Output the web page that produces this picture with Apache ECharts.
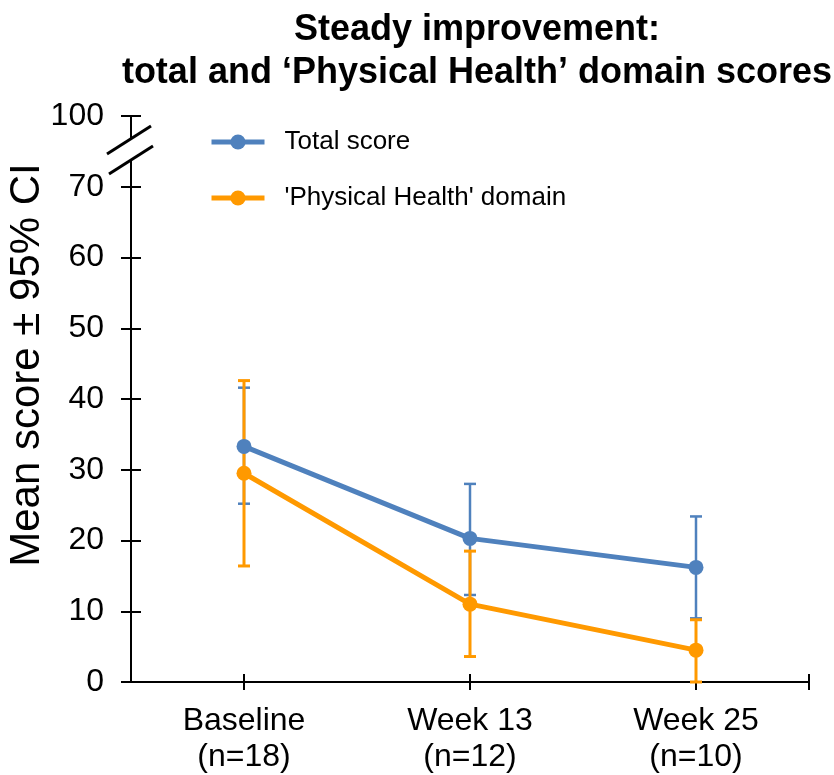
<!DOCTYPE html>
<html>
<head>
<meta charset="utf-8">
<script src="https://cdn.jsdelivr.net/npm/echarts@6/dist/echarts.min.js"></script>
<style>
  html, body { margin: 0; padding: 0; background: #fff; }
  #chart { width: 834px; height: 775px; }
</style>
</head>
<body>
<div id="chart"></div>
<script>
// data
const categories = ['Baseline\n(n=18)', 'Week 13\n(n=12)', 'Week 25\n(n=10)'];
const totalMean = [33.3, 20.3, 16.2];
const totalLow = [25.2, 12.3, 9.0];
const totalHigh = [41.6, 28.0, 23.4];
const physMean = [29.5, 11.0, 4.5];
const physLow = [16.4, 3.6, 0];
const physHigh = [42.6, 18.5, 8.8];
// the top tick (80 on the scale) stands for 100 after the axis break
const yTickLabels = { 0: '0', 10: '10', 20: '20', 30: '30', 40: '40', 50: '50', 60: '60', 70: '70', 80: '100' };

const BLUE = '#4F81BD';
const ORANGE = '#FF9900';
const FONT = '"Liberation Sans", Arial, sans-serif';

const chart = echarts.init(document.getElementById('chart'));

function errorBars(low, high, color, width) {
  return {
    type: 'custom',
    xAxisIndex: 0,
    yAxisIndex: 0,
    silent: true,
    z: 2,
    data: low.map((v, i) => [i + 1, v, high[i]]),
    renderItem: function (params, api) {
      const x = api.value(0);
      const lo = api.coord([x, api.value(1)]);
      const hi = api.coord([x, api.value(2)]);
      const cap = 6;
      const style = { stroke: color, lineWidth: width };
      return {
        type: 'group',
        children: [
          { type: 'line', shape: { x1: lo[0], y1: lo[1], x2: hi[0], y2: hi[1] }, style },
          { type: 'line', shape: { x1: lo[0] - cap, y1: lo[1], x2: lo[0] + cap, y2: lo[1] }, style },
          { type: 'line', shape: { x1: hi[0] - cap, y1: hi[1], x2: hi[0] + cap, y2: hi[1] }, style }
        ]
      };
    }
  };
}

function lineSeries(name, values, color) {
  return {
    name,
    type: 'line',
    xAxisIndex: 0,
    yAxisIndex: 0,
    z: 3,
    data: values.map((v, i) => [i + 1, v]),
    symbol: 'circle',
    symbolSize: 15,
    lineStyle: { color, width: 5 },
    itemStyle: { color },
    emphasis: { disabled: true }
  };
}

const axisLineStyle = { color: '#000', width: 2 };

const option = {
  animation: false,
  backgroundColor: '#fff',
  title: {
    text: 'Steady improvement:\ntotal and \u2018Physical Health\u2019 domain scores',
    left: 472,
    top: 4,
    textAlign: 'center',
    textStyle: { fontFamily: FONT, fontSize: 36, fontWeight: 'bold', color: '#000', lineHeight: 43 }
  },
  legend: {
    orient: 'vertical',
    left: 204,
    top: 124,
    itemWidth: 53,
    itemHeight: 19,
    itemGap: 30,
    lineStyle: { width: 5 },
    data: ['Total score', '\'Physical Health\' domain'],
    textStyle: { fontFamily: FONT, fontSize: 26, color: '#000', padding: [0, 0, 0, 15] }
  },
  grid: { left: 131, right: 25, top: 116, bottom: 93 },
  xAxis: [
    {
      type: 'value',
      min: 0.5,
      max: 3.5,
      position: 'bottom',
      splitLine: { show: false },
      axisLine: { onZero: false, lineStyle: axisLineStyle },
      axisTick: { customValues: [1, 2, 3, 3.5], length: 8, lineStyle: axisLineStyle },
      axisLabel: {
        customValues: [1, 2, 3],
        formatter: v => categories[Math.round(v) - 1],
        margin: 21,
        fontFamily: FONT,
        fontSize: 32,
        lineHeight: 36,
        color: '#000'
      }
    },
    {
      // inner half of the crossing ticks
      type: 'value',
      min: 0.5,
      max: 3.5,
      position: 'bottom',
      splitLine: { show: false },
      axisLine: { show: false, onZero: false },
      axisTick: { customValues: [1, 2, 3, 3.5], inside: true, length: 8, lineStyle: axisLineStyle },
      axisLabel: { show: false }
    }
  ],
  yAxis: [
    {
      type: 'value',
      min: 0,
      max: 80,
      interval: 10,
      position: 'left',
      splitLine: { show: false },
      axisLine: { show: true, onZero: false, lineStyle: axisLineStyle },
      axisTick: { show: true, length: 10, lineStyle: axisLineStyle },
      axisLabel: {
        formatter: v => yTickLabels[v],
        margin: 27,
        fontFamily: FONT,
        fontSize: 32,
        color: '#000'
      }
    },
    {
      type: 'value',
      min: 0,
      max: 80,
      interval: 10,
      position: 'left',
      splitLine: { show: false },
      axisLine: { show: false, onZero: false },
      axisTick: { show: true, inside: true, length: 10, lineStyle: axisLineStyle },
      axisLabel: { show: false }
    }
  ],
  graphic: [
    {
      type: 'text',
      x: 27,
      y: 365,
      rotation: Math.PI / 2,
      style: {
        text: 'Mean score \u00b1 95% CI',
        font: '42px ' + FONT,
        fill: '#000',
        align: 'center',
        verticalAlign: 'middle'
      }
    },
    // axis break
    {
      type: 'polygon',
      z: 100,
      shape: { points: [[107, 153], [151, 125], [153, 146], [109, 174]] },
      style: { fill: '#fff' }
    },
    {
      type: 'line',
      z: 101,
      shape: { x1: 107, y1: 154, x2: 151, y2: 126 },
      style: { stroke: '#000', lineWidth: 3 }
    },
    {
      type: 'line',
      z: 101,
      shape: { x1: 109, y1: 174, x2: 153, y2: 146 },
      style: { stroke: '#000', lineWidth: 3 }
    }
  ],
  series: [
    errorBars(totalLow, totalHigh, BLUE, 2.5),
    errorBars(physLow, physHigh, ORANGE, 3),
    lineSeries('Total score', totalMean, BLUE),
    lineSeries('\'Physical Health\' domain', physMean, ORANGE)
  ]
};

chart.setOption(option);
</script>
</body>
</html>
